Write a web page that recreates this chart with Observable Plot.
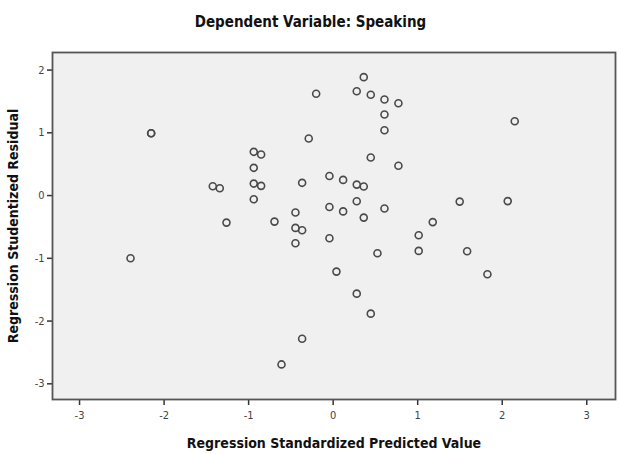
<!DOCTYPE html>
<html>
<head>
<meta charset="utf-8">
<script src="https://cdn.jsdelivr.net/npm/d3@7"></script>
<script src="https://cdn.jsdelivr.net/npm/@observablehq/plot@0.6"></script>
<style>
  html, body { margin: 0; padding: 0; background: #fff; }
  #wrap { width: 621px; height: 454px; position: relative; overflow: hidden; }
  #title { height: 40px; line-height: 44px; text-align: center; padding-left: 0;
           font-family: "Liberation Sans Narrow", "DejaVu Sans Condensed", "Liberation Sans", sans-serif;
           font-weight: bold; font-size: 15px; color: #111; }
  svg text { font-family: "Liberation Sans Narrow", "DejaVu Sans Condensed", "Liberation Sans", sans-serif; }
  g[aria-label="x-axis label"] text, g[aria-label="y-axis label"] text { font-weight: bold; font-size: 14px; fill: #111; }
  g[aria-label="x-axis tick label"] text, g[aria-label="y-axis tick label"] text { font-size: 11px; fill: #444; }
</style>
</head>
<body>
<div id="wrap">
  <div id="title">Dependent Variable: Speaking</div>
  <div id="chart"></div>
</div>
<script>
// Regression Standardized Predicted Value
const predicted = [
  -2.153, -2.153, -1.424, -1.341, -1.262, -2.397, 0.362, -0.201, 0.279, 0.445,
  0.607, 0.772, 0.607, 0.607, -0.289, -0.939, -0.852, -0.939, 0.445, 0.772,
  -0.939, -0.852, -0.367, -0.044, 0.118, 0.279, 0.362, -0.939, 0.279, -0.044,
  0.118, 0.607, -0.446, -0.694, 0.362, 1.178, 2.148, 1.497, 2.065, -0.446,
  -0.367, 1.012, -0.044, -0.446, 1.012, 0.524, 1.585, 1.825, 0.039, 0.279,
  0.445, -0.367, -0.611
];
// Regression Studentized Residual
const residual = [
  0.994, 0.994, 0.148, 0.116, -0.431, -1.0, 1.887, 1.622, 1.663, 1.606,
  1.531, 1.472, 1.292, 1.041, 0.909, 0.697, 0.654, 0.442, 0.606, 0.474,
  0.191, 0.155, 0.203, 0.313, 0.250, 0.175, 0.144, -0.059, -0.091, -0.183,
  -0.252, -0.207, -0.271, -0.415, -0.351, -0.423, 1.185, -0.096, -0.088, -0.515,
  -0.553, -0.633, -0.681, -0.761, -0.882, -0.920, -0.888, -1.255, -1.212, -1.563,
  -1.882, -2.282, -2.691
];
const xTicks = [-3, -2, -1, 0, 1, 2, 3];
const yTicks = [-3, -2, -1, 0, 1, 2];
const xLabel = "Regression Standardized Predicted Value";
const yLabel = "Regression Studentized Residual";

const data = predicted.map((x, i) => ({x, y: residual[i]}));

const chart = Plot.plot({
  width: 621,
  height: 414,
  marginTop: 12,
  marginBottom: 55,
  marginLeft: 52,
  marginRight: 6,
  x: {domain: [-3.32, 3.34]},
  y: {domain: [-3.25, 2.28]},
  marks: [
    Plot.frame({fill: "#f0f0f0", stroke: "none"}),
    Plot.axisX({ticks: xTicks, tickFormat: d => String(d), tickSize: 6, tickPadding: 6,
      stroke: "#333", strokeWidth: 1.5, label: xLabel, labelAnchor: "center", labelArrow: "none", labelOffset: 48}),
    Plot.axisY({ticks: yTicks, tickFormat: d => String(d), tickSize: 5, tickPadding: 3,
      stroke: "#333", strokeWidth: 1.5, label: yLabel, labelAnchor: "center", labelArrow: "none", labelOffset: 44}),
    Plot.dot(data, {x: "x", y: "y", r: 3.5, stroke: "#4a4a4a", strokeWidth: 1.6, fill: "none"}),
    Plot.frame({stroke: "#555", strokeWidth: 1.8})
  ]
});
document.getElementById("chart").appendChild(chart);
</script>
</body>
</html>
